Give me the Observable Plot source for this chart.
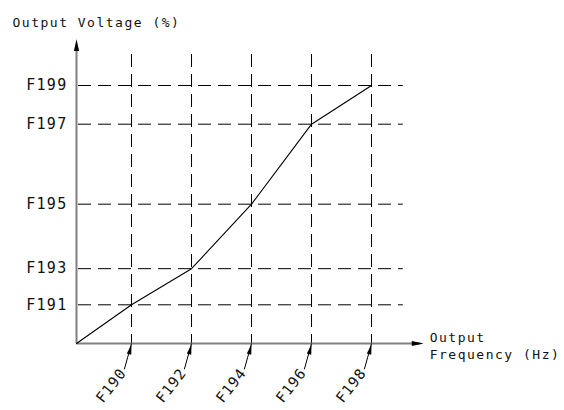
<!DOCTYPE html>
<html>
<head>
<meta charset="utf-8">
<script src="https://cdn.jsdelivr.net/npm/d3@7"></script>
<script src="https://cdn.jsdelivr.net/npm/@observablehq/plot@0.6"></script>
<style>
  html, body { margin: 0; padding: 0; background: #fff; }
  svg { display: block; }
  .lbl text { letter-spacing: 1.3px; }
  .xlbl text { letter-spacing: 1px; }
  .ttl text { letter-spacing: 1.5px; }
</style>
</head>
<body>
<div id="chart"></div>
<script>
// ---- data ----
// frequency parameters along the x axis (unit positions)
const xLabels = ["F190", "F192", "F194", "F196", "F198"];
const xTicks = [1, 2, 3, 4, 5];
const xOrigin = 0.083;
// voltage parameters along the y axis (% of F199 height)
const yLabels = ["F191", "F193", "F195", "F197", "F199"];
const yTicks = [15, 29, 54, 85, 100];
// V/F curve: origin then (F190,F191), (F192,F193), ...
const curveX = [xOrigin, 1, 2, 3, 4, 5];
const curveY = [0, 15, 29, 54, 85, 100];
// axis / grid extents
const xAxisEnd = 5.87, yAxisEnd = 118;
const xGridEnd = 5.53, yGridEnd = 114;
const yTitle = "Output Voltage (%)";
const xTitle = "Output\nFrequency (Hz)";

const curve = curveX.map((x, i) => ({x, y: curveY[i]}));
const xt = xTicks.map((x, i) => ({x, label: xLabels[i]}));
const yt = yTicks.map((y, i) => ({y, label: yLabels[i]}));

// leader offsets (in data units) for the rotated x labels
const leadDx = -0.12, leadDy = -10;

// narrow filled arrowhead symbols, tip at the anchor, pointing up
const headSymbol = {
  draw(ctx) {
    ctx.moveTo(0, 0);
    ctx.lineTo(2.6, 12);
    ctx.lineTo(-2.6, 12);
    ctx.closePath();
  }
};
const leaderHead = {
  draw(ctx) {
    ctx.moveTo(0, 0);
    ctx.lineTo(2.3, 10);
    ctx.lineTo(-2.3, 10);
    ctx.closePath();
  }
};

const font = "DejaVu Sans Mono";

const chart = Plot.plot({
  width: 564,
  height: 410,
  margin: 0,
  style: {fontFamily: font, background: "#fff"},
  x: {type: "linear", domain: [xOrigin, 6], range: [76, 76 + (6 - xOrigin) * 60], axis: null},
  y: {type: "linear", domain: [0, 100], range: [343, 85], axis: null},
  marks: [
    // dashed grid
    Plot.ruleX(xt, {x: "x", y1: 0, y2: yGridEnd, stroke: "#000", strokeWidth: 1, strokeDasharray: "13,7", strokeDashoffset: 4}),
    Plot.ruleY(yt, {y: "y", x1: xOrigin, x2: xGridEnd, stroke: "#000", strokeWidth: 1, strokeDasharray: "13,7", strokeDashoffset: -2}),
    // axes
    Plot.ruleX([xOrigin], {y1: 0, y2: yAxisEnd - 3, stroke: "#808080", strokeWidth: 2}),
    Plot.ruleY([0], {x1: xOrigin, x2: xAxisEnd - 0.05, stroke: "#808080", strokeWidth: 2}),
    Plot.dot([{x: xOrigin, y: yAxisEnd}], {x: "x", y: "y", symbol: headSymbol, fill: "#000", stroke: null, r: 4}),
    Plot.dot([{x: xAxisEnd, y: 0}], {x: "x", y: "y", symbol: headSymbol, fill: "#000", stroke: null, r: 4, rotate: 90}),
    // curve
    Plot.line(curve, {x: "x", y: "y", stroke: "#000", strokeWidth: 1.1}),
    // y labels
    Plot.text(yt, {x: xOrigin, y: "y", text: "label", textAnchor: "end", dx: -9, fontSize: 15, fill: "#111", className: "lbl"}),
    // x label leaders
    Plot.link(xt, {x1: d => d.x + leadDx, y1: leadDy, x2: "x", y2: 0, stroke: "#000", strokeWidth: 1}),
    Plot.dot(xt, {x: "x", y: 0, symbol: leaderHead, fill: "#000", stroke: null, r: 4, rotate: 14.5, dy: 1}),
    Plot.text(xt, {x: d => d.x + leadDx, y: leadDy, text: "label", rotate: -52, textAnchor: "end", dx: -1, dy: 1, fontSize: 14.5, fill: "#111", className: "xlbl"}),
    // titles
    Plot.text([yTitle], {frameAnchor: "top-left", dx: 12, dy: 17, text: d => d, textAnchor: "start", fontSize: 13, fill: "#111", className: "ttl"}),
    Plot.text([xTitle], {x: xAxisEnd, y: 0, text: d => d, textAnchor: "start", dx: 6, dy: 2, fontSize: 13, lineHeight: 1.3, fill: "#111", className: "ttl"})
  ]
});
document.getElementById("chart").appendChild(chart);
</script>
</body>
</html>
